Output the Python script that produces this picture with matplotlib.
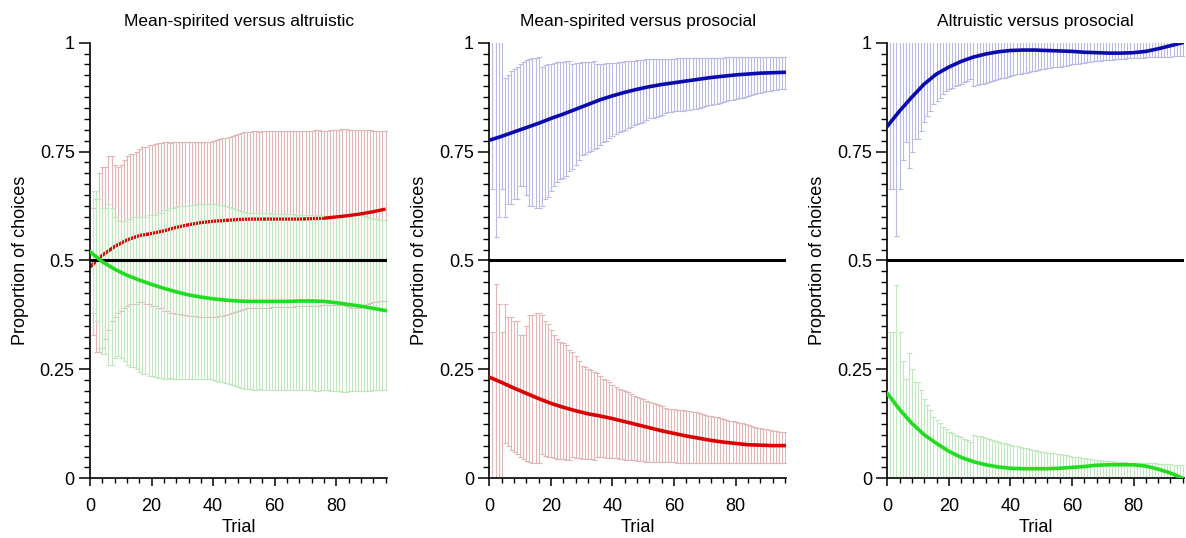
import numpy as np
import matplotlib
matplotlib.use("Agg")
import matplotlib.pyplot as plt
from matplotlib.ticker import MultipleLocator

plt.rcParams['font.family'] = ['Liberation Sans', 'DejaVu Sans']

# ---------------------------------------------------------------- data
trials = np.arange(1, 97)          # trial index for the per-trial error bars
fit_trials = np.arange(0, 97, 4)   # points of the smoothed curves

panel_titles = ["Mean-spirited versus altruistic",
                "Mean-spirited versus prosocial",
                "Altruistic versus prosocial"]
x_label = "Trial"
y_label = "Proportion of choices"
y_ticks = [0, 0.25, 0.5, 0.75, 1]
y_ticklabels = ["0", "0.25", "0.5", "0.75", "1"]
x_ticks = [0, 20, 40, 60, 80]
chance_level = 0.5

# Panel 1: mean-spirited (red) vs altruistic (green)
p1_mean_fit = [0.485, 0.512, 0.532, 0.547, 0.557, 0.562, 0.568, 0.576, 0.582, 0.587,
               0.590, 0.592, 0.594, 0.595, 0.595, 0.595, 0.595, 0.595, 0.596, 0.597,
               0.600, 0.603, 0.607, 0.612, 0.618]
p1_alt_fit = [0.520, 0.497, 0.480, 0.466, 0.455, 0.445, 0.436, 0.428, 0.421, 0.416,
              0.412, 0.409, 0.407, 0.406, 0.406, 0.406, 0.406, 0.407, 0.407, 0.406,
              0.403, 0.399, 0.395, 0.390, 0.385]
p1_mean_hi = [0.62, 0.64, 0.70, 0.715, 0.715, 0.74, 0.74, 0.72, 0.715, 0.72,
              0.73, 0.74, 0.745, 0.745, 0.75, 0.755, 0.76, 0.76, 0.765, 0.765,
              0.768, 0.77, 0.77, 0.772, 0.772, 0.77, 0.772, 0.773, 0.772, 0.772,
              0.773, 0.772, 0.772, 0.773, 0.773, 0.772, 0.773, 0.772, 0.773, 0.774,
              0.776, 0.778, 0.78, 0.782, 0.784, 0.786, 0.788, 0.79, 0.792, 0.794,
              0.795, 0.796, 0.797, 0.797, 0.796, 0.797, 0.797, 0.797, 0.797, 0.797,
              0.797, 0.798, 0.798, 0.797, 0.797, 0.798, 0.798, 0.798, 0.798, 0.798,
              0.798, 0.798, 0.799, 0.799, 0.798, 0.798, 0.798, 0.799, 0.799, 0.8,
              0.8, 0.801, 0.801, 0.8, 0.8, 0.8, 0.799, 0.799, 0.799, 0.799,
              0.799, 0.798, 0.798, 0.798, 0.797, 0.797]
p1_mean_lo = [0.33, 0.29, 0.29, 0.30, 0.32, 0.34, 0.36, 0.37, 0.38, 0.385,
              0.39, 0.395, 0.40, 0.40, 0.40, 0.405, 0.405, 0.40, 0.40, 0.395,
              0.395, 0.39, 0.39, 0.385, 0.385, 0.38, 0.38, 0.378, 0.376, 0.375,
              0.374, 0.373, 0.372, 0.372, 0.371, 0.37, 0.37, 0.37, 0.37, 0.37,
              0.371, 0.372, 0.373, 0.375, 0.377, 0.38, 0.382, 0.384, 0.386, 0.388,
              0.39, 0.39, 0.39, 0.391, 0.392, 0.392, 0.392, 0.392, 0.393, 0.393,
              0.393, 0.393, 0.394, 0.394, 0.394, 0.394, 0.395, 0.395, 0.395, 0.395,
              0.395, 0.396, 0.396, 0.396, 0.397, 0.397, 0.397, 0.398, 0.398, 0.398,
              0.398, 0.397, 0.395, 0.393, 0.39, 0.39, 0.392, 0.395, 0.398, 0.40,
              0.402, 0.404, 0.405, 0.406, 0.407, 0.408]
p1_alt_hi = [0.66, 0.66, 0.64, 0.62, 0.62, 0.63, 0.62, 0.60, 0.59, 0.59,
             0.59, 0.595, 0.595, 0.60, 0.60, 0.60, 0.60, 0.60, 0.605, 0.605,
             0.605, 0.61, 0.61, 0.615, 0.615, 0.62, 0.62, 0.622, 0.624, 0.625,
             0.626, 0.627, 0.628, 0.628, 0.629, 0.63, 0.63, 0.63, 0.63, 0.63,
             0.629, 0.628, 0.627, 0.625, 0.623, 0.62, 0.618, 0.616, 0.614, 0.612,
             0.61, 0.61, 0.61, 0.609, 0.608, 0.608, 0.608, 0.608, 0.607, 0.607,
             0.607, 0.607, 0.606, 0.606, 0.606, 0.606, 0.605, 0.605, 0.605, 0.605,
             0.605, 0.604, 0.604, 0.604, 0.603, 0.603, 0.603, 0.602, 0.602, 0.602,
             0.602, 0.603, 0.605, 0.607, 0.61, 0.61, 0.608, 0.605, 0.602, 0.60,
             0.598, 0.596, 0.595, 0.594, 0.593, 0.592]
p1_alt_lo = [0.38, 0.36, 0.30, 0.285, 0.285, 0.26, 0.26, 0.275, 0.28, 0.275,
             0.27, 0.26, 0.255, 0.255, 0.25, 0.245, 0.24, 0.24, 0.235, 0.235,
             0.232, 0.23, 0.23, 0.228, 0.228, 0.23, 0.228, 0.227, 0.228, 0.228,
             0.227, 0.228, 0.228, 0.227, 0.227, 0.228, 0.227, 0.228, 0.227, 0.226,
             0.224, 0.222, 0.22, 0.218, 0.216, 0.214, 0.212, 0.21, 0.208, 0.206,
             0.205, 0.204, 0.203, 0.203, 0.204, 0.203, 0.203, 0.203, 0.203, 0.203,
             0.203, 0.202, 0.202, 0.203, 0.203, 0.202, 0.202, 0.202, 0.202, 0.202,
             0.202, 0.202, 0.201, 0.201, 0.202, 0.202, 0.202, 0.201, 0.201, 0.2,
             0.2, 0.199, 0.199, 0.2, 0.2, 0.2, 0.201, 0.201, 0.201, 0.201,
             0.201, 0.202, 0.202, 0.202, 0.203, 0.203]

# Panel 2: mean-spirited (red) vs prosocial (blue)
p2_pro_fit = [0.776, 0.785, 0.795, 0.805, 0.815, 0.826, 0.836, 0.847, 0.858, 0.869,
              0.878, 0.886, 0.893, 0.899, 0.904, 0.908, 0.912, 0.916, 0.920, 0.923,
              0.926, 0.928, 0.930, 0.931, 0.932]
p2_mean_fit = [0.232, 0.220, 0.207, 0.195, 0.183, 0.172, 0.163, 0.155, 0.148, 0.143,
               0.137, 0.130, 0.123, 0.116, 0.109, 0.103, 0.097, 0.092, 0.087, 0.083,
               0.080, 0.077, 0.076, 0.075, 0.075]
p2_pro_hi = [1.05, 1.05, 1.05, 1.05, 0.92, 0.925, 0.935, 0.94, 0.945, 0.95,
             0.955, 0.96, 0.962, 0.964, 0.965, 0.966, 0.945, 0.948, 0.95, 0.952,
             0.954, 0.955, 0.956, 0.956, 0.957, 0.958, 0.952, 0.953, 0.954, 0.955,
             0.955, 0.956, 0.956, 0.957, 0.95, 0.951, 0.952, 0.953, 0.953, 0.954,
             0.954, 0.955, 0.956, 0.957, 0.958, 0.958, 0.959, 0.96, 0.96, 0.961,
             0.962, 0.962, 0.962, 0.962, 0.963, 0.963, 0.963, 0.963, 0.963, 0.963,
             0.964, 0.964, 0.964, 0.964, 0.964, 0.964, 0.964, 0.965, 0.965, 0.965,
             0.965, 0.965, 0.965, 0.965, 0.965, 0.965, 0.966, 0.966, 0.966, 0.966,
             0.966, 0.966, 0.966, 0.966, 0.966, 0.966, 0.966, 0.966, 0.966, 0.966,
             0.966, 0.966, 0.966, 0.966, 0.966, 0.966]
p2_pro_lo = [0.665, 0.555, 0.60, 0.665, 0.60, 0.63, 0.63, 0.64, 0.64, 0.67,
             0.67, 0.65, 0.625, 0.625, 0.62, 0.62, 0.625, 0.64, 0.645, 0.66,
             0.67, 0.68, 0.687, 0.69, 0.695, 0.705, 0.71, 0.72, 0.73, 0.742,
             0.745, 0.75, 0.752, 0.755, 0.758, 0.765, 0.772, 0.775, 0.78, 0.785,
             0.79, 0.795, 0.797, 0.80, 0.803, 0.807, 0.81, 0.813, 0.815, 0.818,
             0.822, 0.826, 0.828, 0.83, 0.832, 0.835, 0.838, 0.84, 0.841, 0.842,
             0.843, 0.843, 0.844, 0.845, 0.846, 0.847, 0.848, 0.85, 0.852, 0.854,
             0.856, 0.857, 0.859, 0.86, 0.862, 0.864, 0.866, 0.868, 0.869, 0.87,
             0.872, 0.874, 0.876, 0.878, 0.88, 0.882, 0.884, 0.885, 0.887, 0.888,
             0.89, 0.891, 0.892, 0.893, 0.893, 0.894]
p2_mean_hi = [0.335, 0.445, 0.40, 0.335, 0.40, 0.37, 0.37, 0.36, 0.36, 0.33,
              0.33, 0.35, 0.375, 0.375, 0.38, 0.38, 0.375, 0.36, 0.355, 0.34,
              0.33, 0.32, 0.313, 0.31, 0.305, 0.295, 0.29, 0.28, 0.27, 0.258,
              0.255, 0.25, 0.248, 0.245, 0.242, 0.235, 0.228, 0.225, 0.22, 0.215,
              0.21, 0.205, 0.203, 0.20, 0.197, 0.193, 0.19, 0.187, 0.185, 0.182,
              0.178, 0.174, 0.172, 0.17, 0.168, 0.165, 0.162, 0.16, 0.159, 0.158,
              0.157, 0.157, 0.156, 0.155, 0.154, 0.153, 0.152, 0.15, 0.148, 0.146,
              0.144, 0.143, 0.141, 0.14, 0.138, 0.136, 0.134, 0.132, 0.131, 0.13,
              0.128, 0.126, 0.124, 0.122, 0.12, 0.118, 0.116, 0.115, 0.113, 0.112,
              0.11, 0.109, 0.108, 0.107, 0.107, 0.106]
p2_mean_lo = [-0.05, -0.05, -0.05, -0.05, 0.08, 0.075, 0.065, 0.06, 0.055, 0.05,
              0.045, 0.04, 0.038, 0.036, 0.035, 0.034, 0.055, 0.052, 0.05, 0.048,
              0.046, 0.045, 0.044, 0.044, 0.043, 0.042, 0.048, 0.047, 0.046, 0.045,
              0.045, 0.044, 0.044, 0.043, 0.05, 0.049, 0.048, 0.047, 0.047, 0.046,
              0.046, 0.045, 0.044, 0.043, 0.042, 0.042, 0.041, 0.04, 0.04, 0.039,
              0.038, 0.038, 0.038, 0.038, 0.037, 0.037, 0.037, 0.037, 0.037, 0.037,
              0.036, 0.036, 0.036, 0.036, 0.036, 0.036, 0.036, 0.035, 0.035, 0.035,
              0.035, 0.035, 0.035, 0.035, 0.035, 0.035, 0.034, 0.034, 0.034, 0.034,
              0.034, 0.034, 0.034, 0.034, 0.034, 0.034, 0.034, 0.034, 0.034, 0.034,
              0.034, 0.034, 0.034, 0.034, 0.034, 0.034]

# Panel 3: altruistic (green) vs prosocial (blue)
p3_pro_fit = [0.808, 0.843, 0.875, 0.905, 0.928, 0.944, 0.957, 0.967, 0.974, 0.979,
              0.982, 0.983, 0.983, 0.982, 0.981, 0.980, 0.978, 0.977, 0.976, 0.976,
              0.977, 0.980, 0.986, 0.993, 1.000]
p3_alt_fit = [0.195, 0.158, 0.126, 0.100, 0.080, 0.062, 0.048, 0.038, 0.031, 0.026,
              0.023, 0.022, 0.022, 0.022, 0.023, 0.025, 0.027, 0.030, 0.031, 0.031,
              0.031, 0.028, 0.021, 0.012, 0.000]
p3_pro_hi = [1.05, 1.05, 1.1, 1.05, 1.03, 1.02, 1.04, 1.03, 1.03, 1.03,
             1.02, 1.02, 1.02, 1.02, 1.02, 1.02, 1.02, 1.02, 1.02, 1.02,
             1.02, 1.02, 1.02, 1.02, 1.02, 1.02, 1.02, 1.02, 1.02, 1.02,
             1.02, 1.02, 1.02, 1.02, 1.02, 1.02, 1.02, 1.02, 1.02, 1.02,
             1.02, 1.02, 1.02, 1.02, 1.02, 1.02, 1.02, 1.02, 1.02, 1.02,
             1.02, 1.02, 1.02, 1.02, 1.02, 1.02, 1.02, 1.02, 1.02, 1.02,
             1.02, 1.02, 1.02, 1.02, 1.02, 1.02, 1.02, 1.02, 1.02, 1.02,
             1.01, 1.01, 1.01, 1.01, 1.01, 1.01, 1.01, 1.01, 1.01, 1.01,
             1.01, 1.01, 1.01, 1.01, 1.01, 1.01, 1.01, 1.01, 1.01, 1.01,
             1.01, 1.01, 1.01, 1.01, 1.01, 1.01]
p3_pro_lo = [0.664, 0.664, 0.557, 0.664, 0.73, 0.772, 0.713, 0.75, 0.778, 0.778,
             0.797, 0.817, 0.832, 0.843, 0.859, 0.866, 0.874, 0.882, 0.888, 0.893,
             0.897, 0.90, 0.903, 0.906, 0.909, 0.912, 0.917, 0.901, 0.902, 0.904,
             0.906, 0.908, 0.91, 0.912, 0.914, 0.916, 0.918, 0.92, 0.922, 0.923,
             0.925, 0.927, 0.928, 0.93, 0.931, 0.933, 0.934, 0.936, 0.937, 0.939,
             0.94, 0.941, 0.942, 0.943, 0.944, 0.945, 0.946, 0.947, 0.948, 0.95,
             0.951, 0.952, 0.953, 0.954, 0.955, 0.956, 0.957, 0.958, 0.959, 0.96,
             0.96, 0.961, 0.961, 0.962, 0.962, 0.963, 0.963, 0.964, 0.964, 0.964,
             0.965, 0.965, 0.965, 0.966, 0.966, 0.966, 0.966, 0.967, 0.967, 0.967,
             0.968, 0.968, 0.969, 0.969, 0.969, 0.969]
p3_alt_hi = [0.336, 0.336, 0.443, 0.336, 0.27, 0.228, 0.287, 0.25, 0.222, 0.222,
             0.203, 0.183, 0.168, 0.157, 0.141, 0.134, 0.126, 0.118, 0.112, 0.107,
             0.103, 0.10, 0.097, 0.094, 0.091, 0.088, 0.083, 0.099, 0.098, 0.096,
             0.094, 0.092, 0.09, 0.088, 0.086, 0.084, 0.082, 0.08, 0.078, 0.077,
             0.075, 0.073, 0.072, 0.07, 0.069, 0.067, 0.066, 0.064, 0.063, 0.061,
             0.06, 0.059, 0.058, 0.057, 0.056, 0.055, 0.054, 0.053, 0.052, 0.05,
             0.049, 0.048, 0.047, 0.046, 0.045, 0.044, 0.043, 0.042, 0.041, 0.04,
             0.04, 0.039, 0.039, 0.038, 0.038, 0.037, 0.037, 0.036, 0.036, 0.036,
             0.035, 0.035, 0.035, 0.034, 0.034, 0.034, 0.034, 0.033, 0.033, 0.033,
             0.032, 0.032, 0.031, 0.031, 0.031, 0.031]
p3_alt_lo = [-0.05, -0.05, -0.1, -0.05, -0.03, -0.02, -0.04, -0.03, -0.03, -0.03,
             -0.02, -0.02, -0.02, -0.02, -0.02, -0.02, -0.02, -0.02, -0.02, -0.02,
             -0.02, -0.02, -0.02, -0.02, -0.02, -0.02, -0.02, -0.02, -0.02, -0.02,
             -0.02, -0.02, -0.02, -0.02, -0.02, -0.02, -0.02, -0.02, -0.02, -0.02,
             -0.02, -0.02, -0.02, -0.02, -0.02, -0.02, -0.02, -0.02, -0.02, -0.02,
             -0.02, -0.02, -0.02, -0.02, -0.02, -0.02, -0.02, -0.02, -0.02, -0.02,
             -0.02, -0.02, -0.02, -0.02, -0.02, -0.02, -0.02, -0.02, -0.02, -0.02,
             -0.01, -0.01, -0.01, -0.01, -0.01, -0.01, -0.01, -0.01, -0.01, -0.01,
             -0.01, -0.01, -0.01, -0.01, -0.01, -0.01, -0.01, -0.01, -0.01, -0.01,
             -0.01, -0.01, -0.01, -0.01, -0.01, -0.01]

# ---------------------------------------------------------------- styles
RED, RED_BAR = "#d80000", "#e2b6b6"
GREEN, GREEN_BAR = "#22dc22", "#bfe8bf"
BLUE, BLUE_BAR = "#0a0aae", "#babae6"


def draw_bars(ax, lo, hi, color, z):
    lo = np.asarray(lo, float)
    hi = np.asarray(hi, float)
    ax.errorbar(trials, lo, yerr=[np.zeros_like(lo), hi - lo], fmt="none",
                ecolor=color, elinewidth=0.8, capsize=1.8, capthick=0.8,
                zorder=z)


def style_axes(ax, title):
    ax.set_xlim(0, 96.5)
    ax.set_ylim(0, 1)
    for side in ("top", "right"):
        ax.spines[side].set_visible(False)
    for side in ("left", "bottom"):
        ax.spines[side].set_linewidth(1.2)
    ax.set_yticks(y_ticks, y_ticklabels)
    ax.set_xticks(x_ticks)
    ax.yaxis.set_minor_locator(MultipleLocator(0.025))
    ax.xaxis.set_minor_locator(MultipleLocator(4))
    ax.tick_params(axis="y", which="major", direction="out", length=8,
                   width=1.1, labelsize=13, pad=3)
    ax.tick_params(axis="y", which="minor", direction="out", length=4,
                   width=1.0)
    ax.tick_params(axis="x", which="major", direction="out", length=6,
                   width=1.1, labelsize=13, pad=8)
    ax.tick_params(axis="x", which="minor", direction="out", length=3.5,
                   width=1.0)
    ax.set_title(title, fontsize=12.5, pad=12)
    ax.set_xlabel(x_label, fontsize=13, labelpad=3)
    ax.set_ylabel(y_label, fontsize=13, labelpad=8)
    ax.axhline(chance_level, color="black", lw=2.2, zorder=5)


fig = plt.figure(figsize=(11.86, 5.38), dpi=100)
lefts = [0.0759, 0.4126, 0.7481]
axes = [fig.add_axes([l, 0.111, 0.2505, 0.8097]) for l in lefts]

# Panel 1
ax = axes[0]
draw_bars(ax, p1_mean_lo, p1_mean_hi, RED_BAR, 1)
ax.plot(fit_trials[:20], p1_mean_fit[:20], color=RED, lw=2.4, zorder=1.5,
        solid_capstyle="butt")
draw_bars(ax, p1_alt_lo, p1_alt_hi, GREEN_BAR, 2)
ax.plot(fit_trials[19:], p1_mean_fit[19:], color=RED, lw=2.4, zorder=6,
        solid_capstyle="butt")
ax.plot(fit_trials, p1_alt_fit, color=GREEN, lw=2.6, zorder=6)
style_axes(ax, panel_titles[0])

# Panel 2
ax = axes[1]
draw_bars(ax, p2_pro_lo, p2_pro_hi, BLUE_BAR, 1)
draw_bars(ax, p2_mean_lo, p2_mean_hi, RED_BAR, 2)
ax.plot(fit_trials, p2_pro_fit, color=BLUE, lw=2.6, zorder=6)
ax.plot(fit_trials, p2_mean_fit, color=RED, lw=2.6, zorder=6)
style_axes(ax, panel_titles[1])

# Panel 3
ax = axes[2]
draw_bars(ax, p3_pro_lo, p3_pro_hi, BLUE_BAR, 1)
draw_bars(ax, p3_alt_lo, p3_alt_hi, GREEN_BAR, 2)
ax.plot(fit_trials, p3_pro_fit, color=BLUE, lw=2.6, zorder=6)
ax.plot(fit_trials, p3_alt_fit, color=GREEN, lw=2.6, zorder=6)
style_axes(ax, panel_titles[2])

fig.savefig("out.png", dpi=100)
